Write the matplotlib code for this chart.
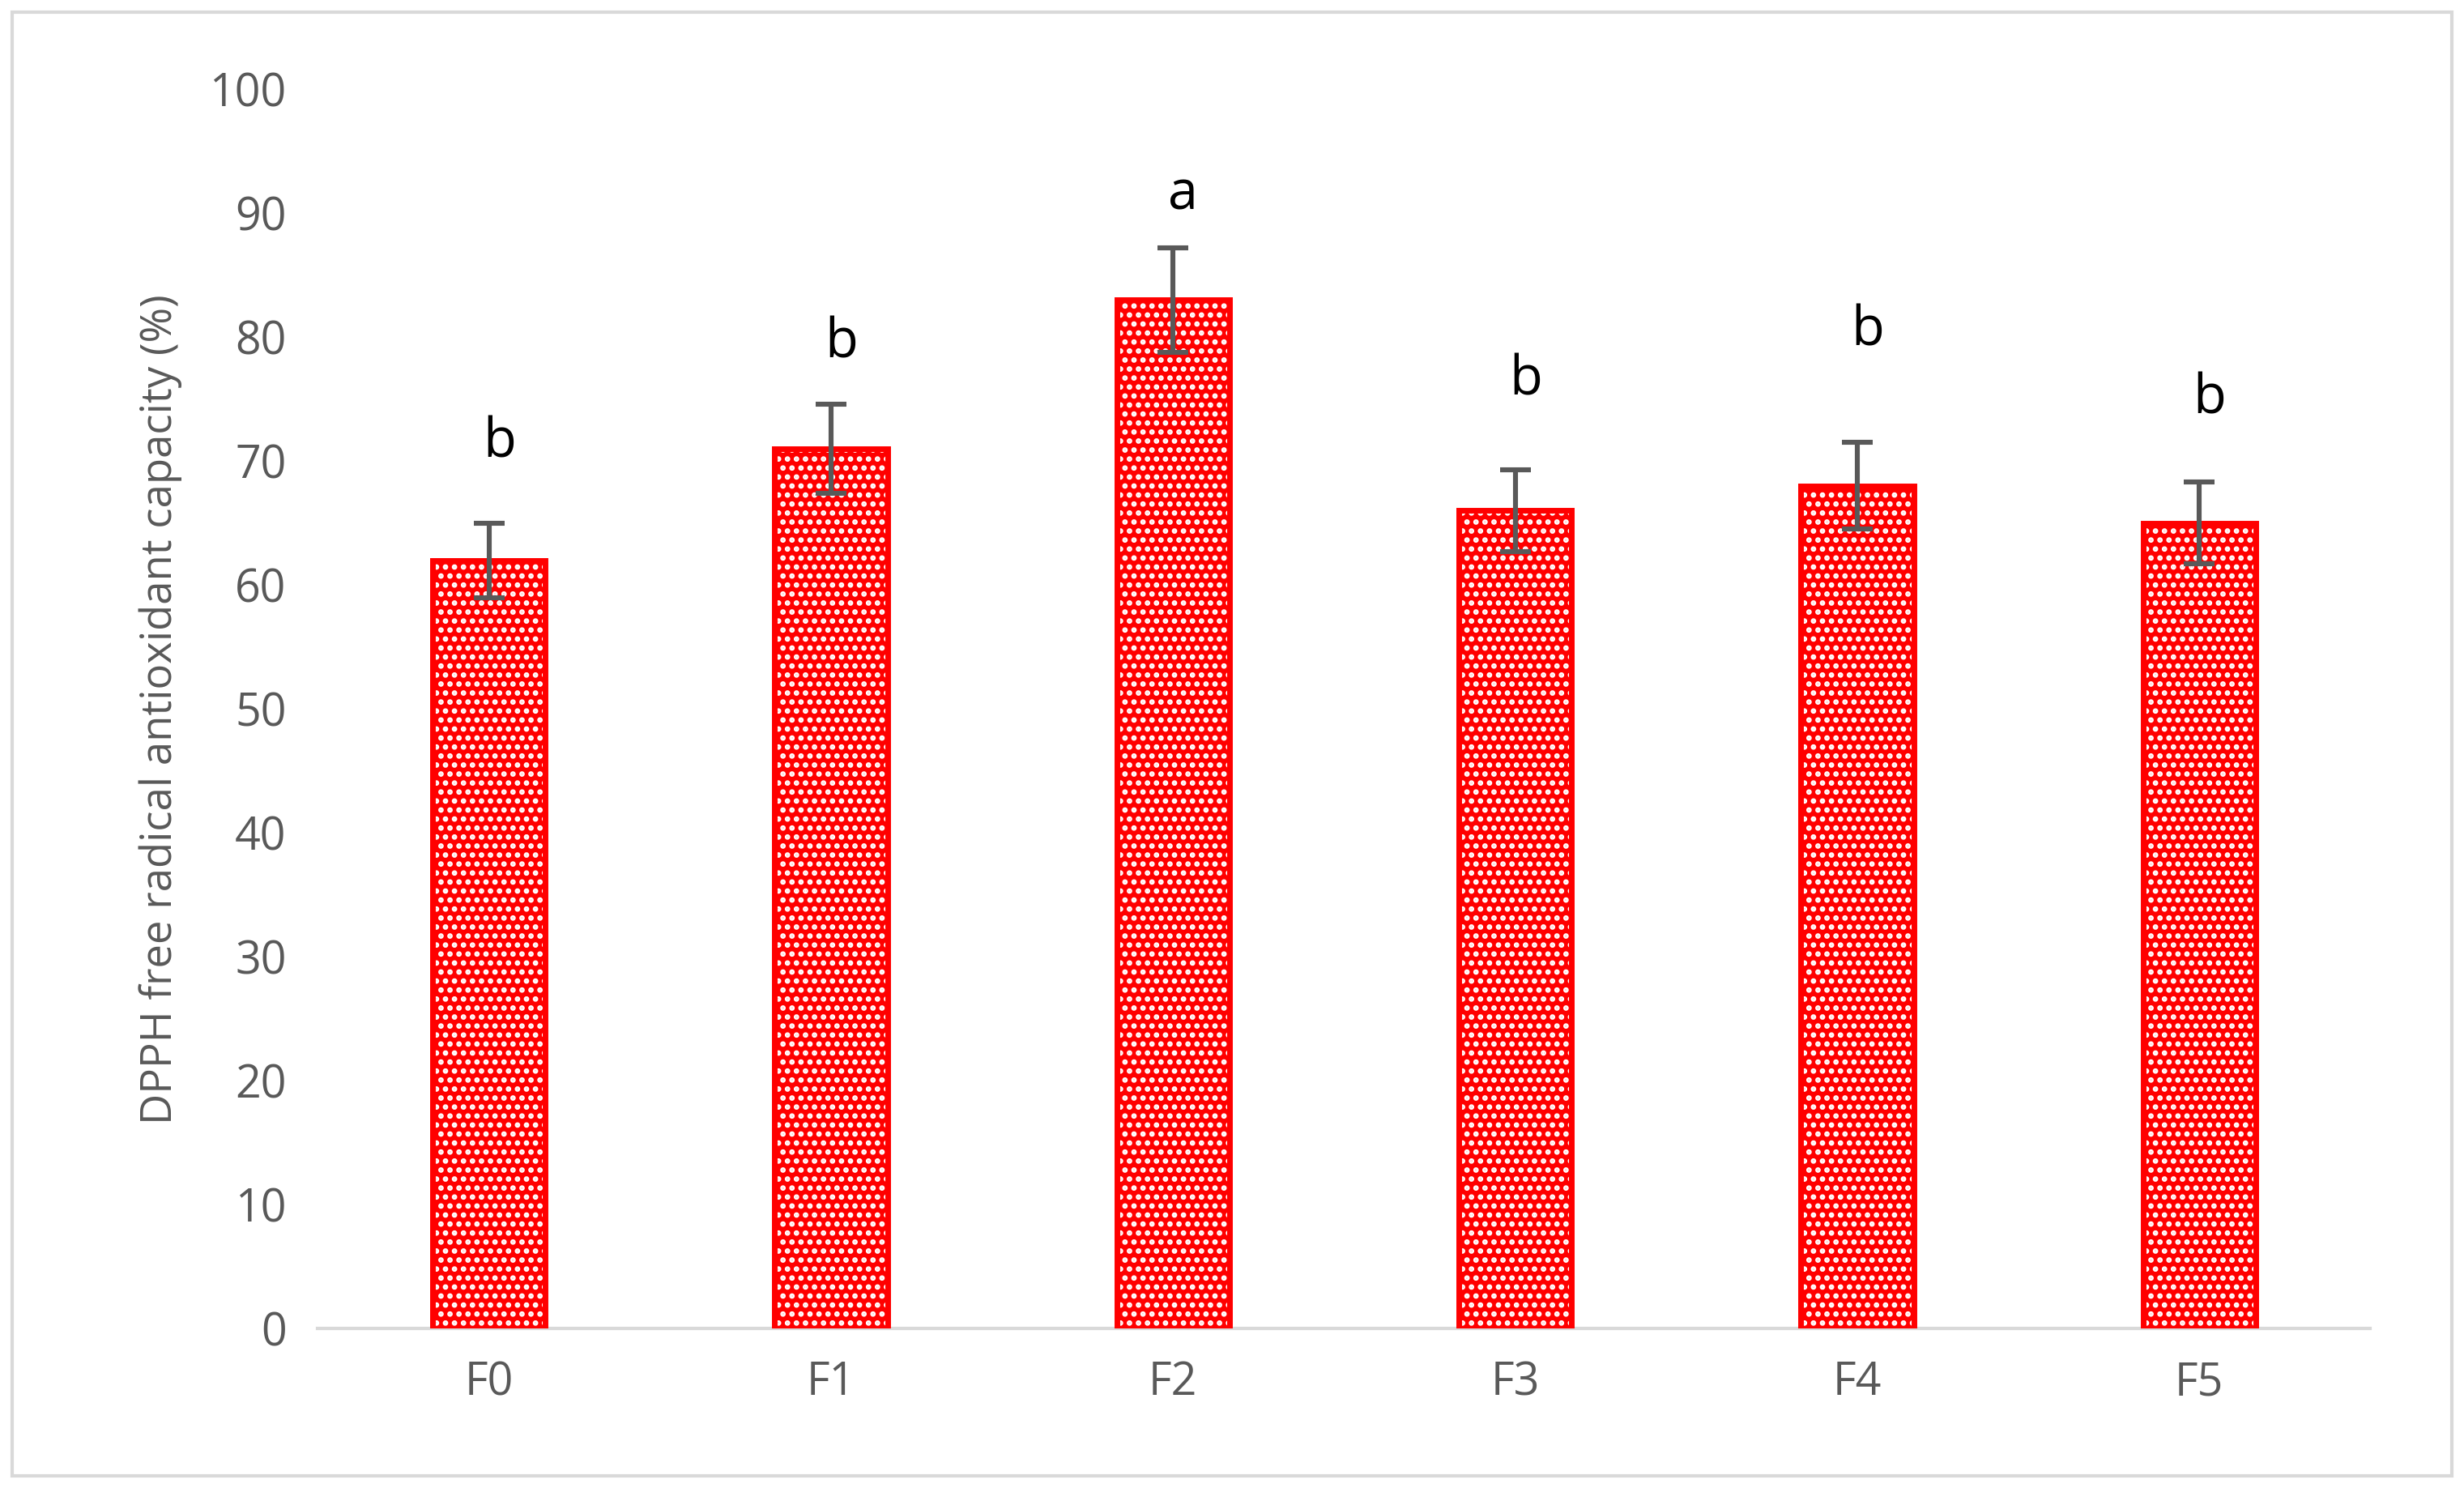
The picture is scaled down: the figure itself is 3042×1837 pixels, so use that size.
import matplotlib
matplotlib.use("Agg")
import matplotlib.pyplot as plt
from matplotlib.patches import Rectangle

categories = ["F0", "F1", "F2", "F3", "F4", "F5"]
values = [62, 71, 83, 66, 68, 65]
errors = [3.0, 3.6, 4.2, 3.3, 3.5, 3.3]
letters = ["b", "b", "a", "b", "b", "b"]
letter_y = [71.5, 79.5, 91.5, 76.5, 80.5, 75.0]

plt.rcParams['font.family'] = ['Open Sans', 'DejaVu Sans']
plt.rcParams['hatch.linewidth'] = 1.6

fig = plt.figure(figsize=(15.21, 9.185), dpi=200)
ax = fig.add_axes([0.129, 0.107, 0.833, 0.833])
x = range(len(categories))
ax.bar(x, values, width=0.33, color="#ff0000", edgecolor="white", hatch="...", linewidth=0, zorder=2)
ax.bar(x, values, width=0.33, fill=False, edgecolor="#ff0000", linewidth=2.5, zorder=3)
ax.errorbar(x, values, yerr=errors, fmt="none", ecolor="#595959", elinewidth=2.2, capsize=7, capthick=2.2, zorder=4)
for xi, l, ly in zip(x, letters, letter_y):
    ax.text(xi + 0.03, ly, l, ha="center", va="center", fontsize=24, color="black")

ax.set_ylim(0, 100)
ax.set_xlim(-0.5, len(categories) - 0.5)
ax.set_yticks(range(0, 101, 10))
ax.set_xticks(list(x))
ax.set_xticklabels(categories)
ax.tick_params(axis="both", length=0, labelsize=20, labelcolor="#595959", pad=14)
ax.set_ylabel("DPPH free radical antioxidant capacity (%)", fontsize=19, color="#595959", labelpad=12)
for s in ["top", "right", "left"]:
    ax.spines[s].set_visible(False)
ax.spines["bottom"].set_color("#d9d9d9")
ax.spines["bottom"].set_linewidth(1.5)

fig.patches.append(Rectangle((0.005, 0.008), 0.99, 0.984, transform=fig.transFigure,
                             fill=False, edgecolor="#d9d9d9", linewidth=1.5))
fig.savefig("out.png", dpi=200)
